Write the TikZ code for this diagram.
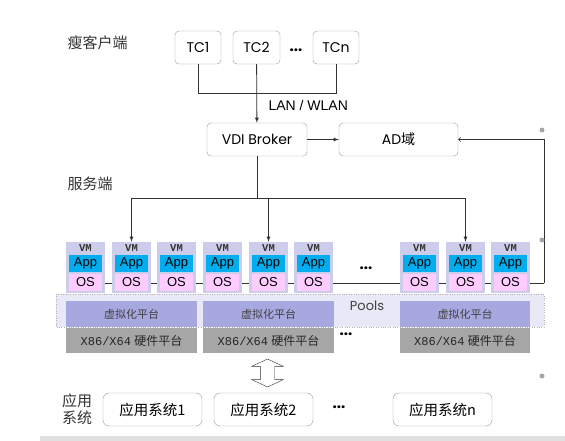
\documentclass[tikz,border=0pt]{standalone}
\usepackage{fontspec}
\usepackage{tikz}
\usetikzlibrary{arrows,shapes}
\setmainfont{Poppins}
\newfontfamily\cjk{Noto Sans CJK SC}
\newfontfamily\arial{Liberation Sans}
\newfontfamily\mono{Liberation Mono}
\definecolor{vmbg}{RGB}{204,204,235}
\definecolor{appc}{RGB}{0,174,239}
\definecolor{osc}{RGB}{255,204,255}
\definecolor{virtc}{RGB}{168,168,224}
\definecolor{hwc}{RGB}{166,166,166}
\definecolor{poolc}{RGB}{232,232,246}
\definecolor{linec}{RGB}{50,50,50}
\newcommand{\setfs}[1]{\fontsize{#1}{#1}\selectfont}
\newcommand{\vmbox}[2]{%
	\node[vm] (#1) at (#2,267.5) {};
	\node[app] (#1a) at (#2,263.5) {App};
	\node[os] (#1o) at (#2,282.5) {OS};
	\node[vmtext] (#1t) at (#2,248.5) {VM};
}

\begin{document}
\begin{tikzpicture}[x=1pt,y=-1pt,
	box/.style={draw=gray!80, rounded corners=4pt, minimum height=33pt, inner sep=0pt, font=\setfs{14}},
	vm/.style={fill=vmbg, minimum width=39pt, minimum height=51pt, inner sep=0pt},
	app/.style={fill=appc, minimum width=33pt, minimum height=17pt, inner sep=0pt, font=\arial\setfs{13}},
	os/.style={fill=osc, minimum width=33pt, minimum height=17pt, inner sep=0pt, font=\arial\setfs{13}},
	vmtext/.style={font=\mono\bfseries\setfs{10.5}, text=black!80},
	virt/.style={fill=virtc, minimum height=26pt, inner sep=0pt, font=\cjk\setfs{11}, text=black!75},
	hw/.style={fill=hwc, minimum height=25pt, inner sep=0pt, font=\setfs{12}, text=black!85},
	dots/.style={font=\bfseries\setfs{15}},
	side/.style={font=\cjk\setfs{15}, text=black!80},
	line/.style={draw=linec, line width=0.8pt}]
	\useasboundingbox (0,0) rectangle (565,441);
	\fill[black!12] (40,436) rectangle (565,441);

	% thin clients
	\node[box, minimum width=46pt] (tc1) at (198,47.5) {TC1};
	\node[box, minimum width=47pt] (tc2) at (256.5,47.5) {TC2};
	\node[box, minimum width=46pt] (tcn) at (336,47.5) {TCn};
	\node[dots] (tcdots) at (296,50) {...};
	\node[side, anchor=west] (lthin) at (64,43) {瘦客户端};
	\coordinate (busl) at (198,93);
	\coordinate (busr) at (336,93);
	\draw[line] (tc1) -- (busl) -- (busr) -- (tcn);

	% broker and AD
	\node[box, minimum width=100pt] (broker) at (257,139.5) {VDI Broker};
	\node[box, minimum width=119pt] (ad) at (398.5,139.5) {AD{\cjk 域}};
	\draw[line, -latex] (tc2) -- (broker);
	\node[anchor=west, font=\arial\setfs{14}] (lan) at (265,105) {LAN / WLAN};
	\draw[line, -latex] (broker) -- (ad);
	\node[side, anchor=west] (lserv) at (64,184) {服务端};

	% pools
	\filldraw[fill=poolc, draw=gray!60, dotted] (56,294) rectangle (544,327);
	\node[font=\setfs{13}, text=black!75] (pools) at (367,306) {Pools};
	\coordinate (rc) at (544,283);
	\draw[line] (85.5,283) -- (rc);
	\draw[line, ->] (rc) |- (ad);

	\vmbox{vm1}{85.5}
	\vmbox{vm2}{131.5}
	\vmbox{vm3}{176.5}
	\vmbox{vm4}{222.5}
	\vmbox{vm5}{268.5}
	\vmbox{vm6}{313.5}
	\vmbox{vm7}{419.5}
	\vmbox{vm8}{465.5}
	\vmbox{vm9}{510.5}
	\node[dots] (vmdots) at (366,268) {...};

	\coordinate (split) at (257,198);
	\draw[line] (broker) -- (split);
	\draw[line, -latex] (split) -| (vm2);
	\draw[line, -latex] (split) -| (vm8);
	\draw[line, -latex] (split -| vm5) -- (vm5);

	% platforms
	\node[virt, minimum width=131pt] (virt1) at (131.5,314) {虚拟化平台};
	\node[virt, minimum width=131pt] (virt2) at (268.5,314) {虚拟化平台};
	\node[virt, minimum width=130pt] (virt3) at (465,314) {虚拟化平台};
	\node[hw, minimum width=131pt] (hw1) at (131.5,340.5) {{\mono X86/X64} {\cjk 硬件平台}};
	\node[hw, minimum width=131pt] (hw2) at (268.5,340.5) {{\mono X86/X64} {\cjk 硬件平台}};
	\node[hw, minimum width=130pt] (hw3) at (465,340.5) {{\mono X86/X64} {\cjk 硬件平台}};
	\node[dots] (hwdots) at (346,334) {...};

	% application systems
	\node[double arrow, draw=linec, fill=white, rotate=90, minimum height=28pt, minimum width=31pt,
		double arrow head extend=8.5pt, double arrow tip angle=130, inner xsep=0pt, inner ysep=7pt] (sync) at (267.5,373) {};
	\node[box, rounded corners=6pt, minimum width=99pt, font=\cjk\setfs{14.5}] (sys1) at (152.5,409.5) {应用系统1};
	\node[box, rounded corners=6pt, minimum width=99pt, font=\cjk\setfs{14.5}] (sys2) at (263.5,409.5) {应用系统2};
	\node[box, rounded corners=6pt, minimum width=99pt, font=\cjk\setfs{14.5}] (sysn) at (442.5,409.5) {应用系统n};
	\node[dots] (sysdots) at (339,407) {...};
	\node[side, align=left, font=\cjk\fontsize{15}{17}\selectfont] (lapp) at (77,409) {应用\\系统};

	% slide bullets
	\fill[gray!70] (542,130) circle (2.5);
	\fill[gray!70] (542,240) circle (2.5);
	\fill[gray!70] (542,376) circle (2.5);
\end{tikzpicture}
\end{document}
